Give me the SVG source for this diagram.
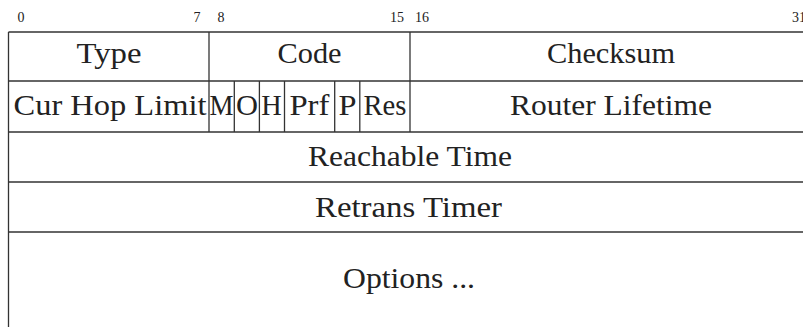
<svg xmlns="http://www.w3.org/2000/svg" width="803" height="327" viewBox="0 0 803 327">
  <style>
    .grid line { stroke: #333; stroke-width: 1.3; fill: none; }
    .lbl { font-size: 29px; fill: #222; text-anchor: middle; }
    .bit { font-size: 14px; fill: #222; text-anchor: middle; }
  </style>
  <rect width="803" height="327" fill="#fff"/>

  <g font-family="Liberation Serif, DejaVu Serif, Noto Serif, Times New Roman, Times, Nimbus Roman, Tinos, serif">
  <!-- bit numbers above the header (one bit = 25.1px, starting at x=8.5) -->
  <g id="bit-numbers">
    <text class="bit" x="21" y="22">0</text>
    <text class="bit" x="197" y="22">7</text>
    <text class="bit" x="221" y="22">8</text>
    <text class="bit" x="397" y="22">15</text>
    <text class="bit" x="422" y="22">16</text>
    <text class="bit" x="799" y="22">31</text>
  </g>

  <!-- field boundaries -->
  <g id="grid" class="grid">
    <line x1="8.5" y1="32" x2="803" y2="32"/>
    <line x1="8.5" y1="81" x2="803" y2="81"/>
    <line x1="8.5" y1="132" x2="803" y2="132"/>
    <line x1="8.5" y1="182" x2="803" y2="182"/>
    <line x1="8.5" y1="232" x2="803" y2="232"/>
    <line x1="8.5" y1="32" x2="8.5" y2="327"/>
    <line x1="209" y1="32" x2="209" y2="132"/>
    <line x1="410" y1="32" x2="410" y2="132"/>
    <line x1="234.3" y1="81" x2="234.3" y2="132"/>
    <line x1="259.4" y1="81" x2="259.4" y2="132"/>
    <line x1="284.5" y1="81" x2="284.5" y2="132"/>
    <line x1="334.7" y1="81" x2="334.7" y2="132"/>
    <line x1="359.8" y1="81" x2="359.8" y2="132"/>
  </g>

  <g id="type"><text class="lbl" x="109" y="63" textLength="65" lengthAdjust="spacingAndGlyphs">Type</text></g>
  <g id="code"><text class="lbl" x="309.5" y="63" textLength="64" lengthAdjust="spacingAndGlyphs">Code</text></g>
  <g id="checksum"><text class="lbl" x="611" y="63" textLength="128" lengthAdjust="spacingAndGlyphs">Checksum</text></g>

  <g id="cur-hop-limit"><text class="lbl" x="110" y="115" textLength="193" lengthAdjust="spacingAndGlyphs">Cur Hop Limit</text></g>
  <g id="flag-m"><text class="lbl" x="221.6" y="115" textLength="24" lengthAdjust="spacingAndGlyphs">M</text></g>
  <g id="flag-o"><text class="lbl" x="247" y="115" textLength="22" lengthAdjust="spacingAndGlyphs">O</text></g>
  <g id="flag-h"><text class="lbl" x="271.5" y="115" textLength="20.5" lengthAdjust="spacingAndGlyphs">H</text></g>
  <g id="prf"><text class="lbl" x="309.4" y="115" textLength="40" lengthAdjust="spacingAndGlyphs">Prf</text></g>
  <g id="flag-p"><text class="lbl" x="347.5" y="115" textLength="18" lengthAdjust="spacingAndGlyphs">P</text></g>
  <g id="res"><text class="lbl" x="385" y="115" textLength="43" lengthAdjust="spacingAndGlyphs">Res</text></g>
  <g id="router-lifetime"><text class="lbl" x="611" y="115" textLength="202" lengthAdjust="spacingAndGlyphs">Router Lifetime</text></g>

  <g id="reachable-time"><text class="lbl" x="410" y="166" textLength="204" lengthAdjust="spacingAndGlyphs">Reachable Time</text></g>
  <g id="retrans-timer"><text class="lbl" x="408.5" y="217" textLength="187" lengthAdjust="spacingAndGlyphs">Retrans Timer</text></g>
  <g id="options"><text class="lbl" x="409" y="288" textLength="132" lengthAdjust="spacingAndGlyphs">Options ...</text></g>
  </g>
</svg>
